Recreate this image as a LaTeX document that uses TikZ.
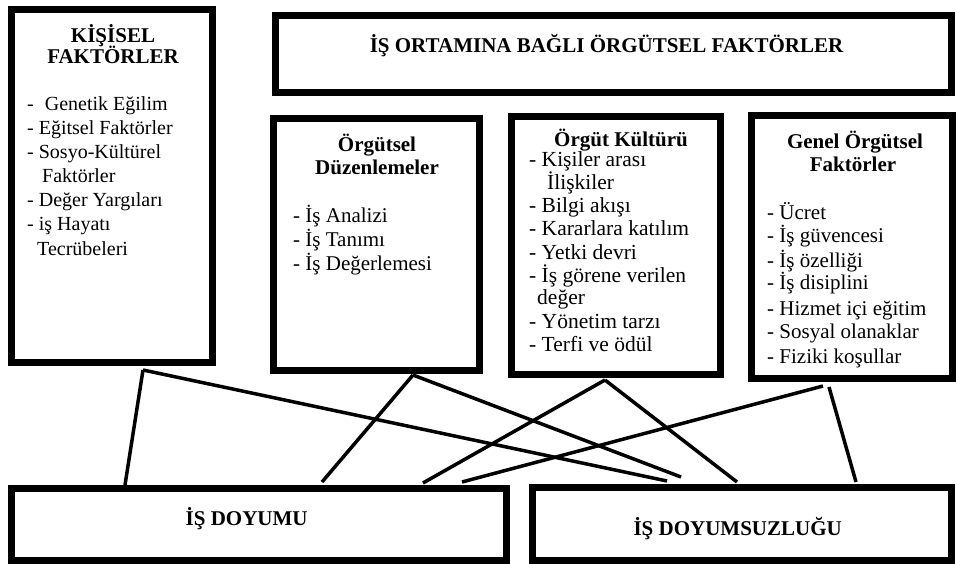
\documentclass[tikz,border=0pt]{standalone}
\usepackage{fontspec}
\setmainfont{Liberation Serif}
\begin{document}
\begin{tikzpicture}[x=1pt,y=-1pt,
  box/.style={draw=black, line width=7pt, inner sep=0pt, fill=white},
  lnk/.style={line width=3.5pt, black},
  ttl/.style={font=\bfseries\fontsize{21}{24}\selectfont, anchor=base, inner sep=0pt},
  itm/.style={font=\fontsize{21}{24}\selectfont, anchor=base west, inner sep=0pt},
  itmA/.style={font=\fontsize{20}{24}\selectfont, anchor=base west, inner sep=0pt},
  itmC/.style={font=\fontsize{21.5}{24}\selectfont, anchor=base west, inner sep=0pt}]
\useasboundingbox (0,0) rectangle (956,564);
% boxes
\node[box, minimum width=201pt, minimum height=352.5pt] (K) at (111.5,185.75) {};
\node[box, minimum width=676.5pt, minimum height=76.5pt] (T) at (613.25,54.25) {};
\node[box, minimum width=205.5pt, minimum height=252pt] (O1) at (376.25,244.5) {};
\node[box, minimum width=209pt, minimum height=257.5pt] (O2) at (615.5,245.25) {};
\node[box, minimum width=200.5pt, minimum height=262.5pt] (O3) at (851.75,247.25) {};
\node[box, minimum width=495.5pt, minimum height=72pt] (D1) at (258.75,524) {};
\node[box, minimum width=419pt, minimum height=73.5pt] (D2) at (742,523.75) {};
% titles
\node[ttl] (Kt1) at (113,43) {KİŞİSEL};
\node[ttl] (Kt2) at (113,64) {FAKTÖRLER};
\node[ttl] (Tt) at (606.5,53) {İŞ ORTAMINA BAĞLI ÖRGÜTSEL FAKTÖRLER};
\node[ttl] (O1t1) at (377,152) {Örgütsel};
\node[ttl] (O1t2) at (377,175) {Düzenlemeler};
\node[ttl] (O2t) at (621,147) {Örgüt Kültürü};
\node[ttl] (O3t1) at (855,149) {Genel Örgütsel};
\node[ttl] (O3t2) at (853,172) {Faktörler};
\node[ttl] (D1t) at (246.7,525) {İŞ DOYUMU};
\node[ttl] (D2t) at (737.7,535) {İŞ DOYUMSUZLUĞU};
% lists
\foreach \yy/\txt [count=\i] in {111/{-\hspace{6pt} Genetik Eğilim},135/{- Eğitsel Faktörler},159/{- Sosyo-Kültürel},183/{\hspace{15pt}Faktörler},207/{- Değer Yargıları},231/{- iş Hayatı},255/{\hspace{10pt}Tecrübeleri}}
  \node[itmA] (k\i) at (27,\yy) {\txt};
\foreach \yy/\txt [count=\i] in {223/{- İş Analizi},247/{- İş Tanımı},270/{- İş Değerlemesi}}
  \node[itm] (a\i) at (293,\yy) {\txt};
\foreach \yy/\txt [count=\i] in {167/{- Kişiler arası},189.5/{\hspace{18pt}İlişkiler},213/{- Bilgi akışı},236/{- Kararlara katılım},259/{- Yetki devri},283/{- İş görene verilen},304/{\hspace{8pt}değer},328/{- Yönetim tarzı},351/{- Terfi ve ödül}}
  \node[itmC] (b\i) at (529,\yy) {\txt};
\foreach \yy/\txt [count=\i] in {220/{- Ücret},243/{- İş güvencesi},267/{- İş özelliği},290/{- İş disiplini},315/{- Hizmet içi eğitim},338/{- Sosyal olanaklar},363/{- Fiziki koşullar}}
  \node[itm] (c\i) at (767,\yy) {\txt};
% connector end points
\coordinate (kb) at (143,370);
\coordinate (o1b) at (413,375);
\coordinate (o2b) at (605,380);
\coordinate (o3a) at (823,386);
\coordinate (o3b) at (829,387);
\coordinate (d1a) at (125,485);
\coordinate (d1b) at (322,482);
\coordinate (d1c) at (423,483);
\coordinate (d1d) at (462,482);
\coordinate (d2a) at (667,481);
\coordinate (d2b) at (681,477);
\coordinate (d2c) at (737,482);
\coordinate (d2d) at (856,482);
% connectors
\draw[lnk] (kb) -- (d1a);
\draw[lnk] (kb) -- (d2a);
\draw[lnk] (o1b) -- (d1b);
\draw[lnk] (o1b) -- (d2b);
\draw[lnk] (o2b) -- (d1c);
\draw[lnk] (o2b) -- (d2c);
\draw[lnk] (o3a) -- (d1d);
\draw[lnk] (o3b) -- (d2d);
\end{tikzpicture}
\end{document}
